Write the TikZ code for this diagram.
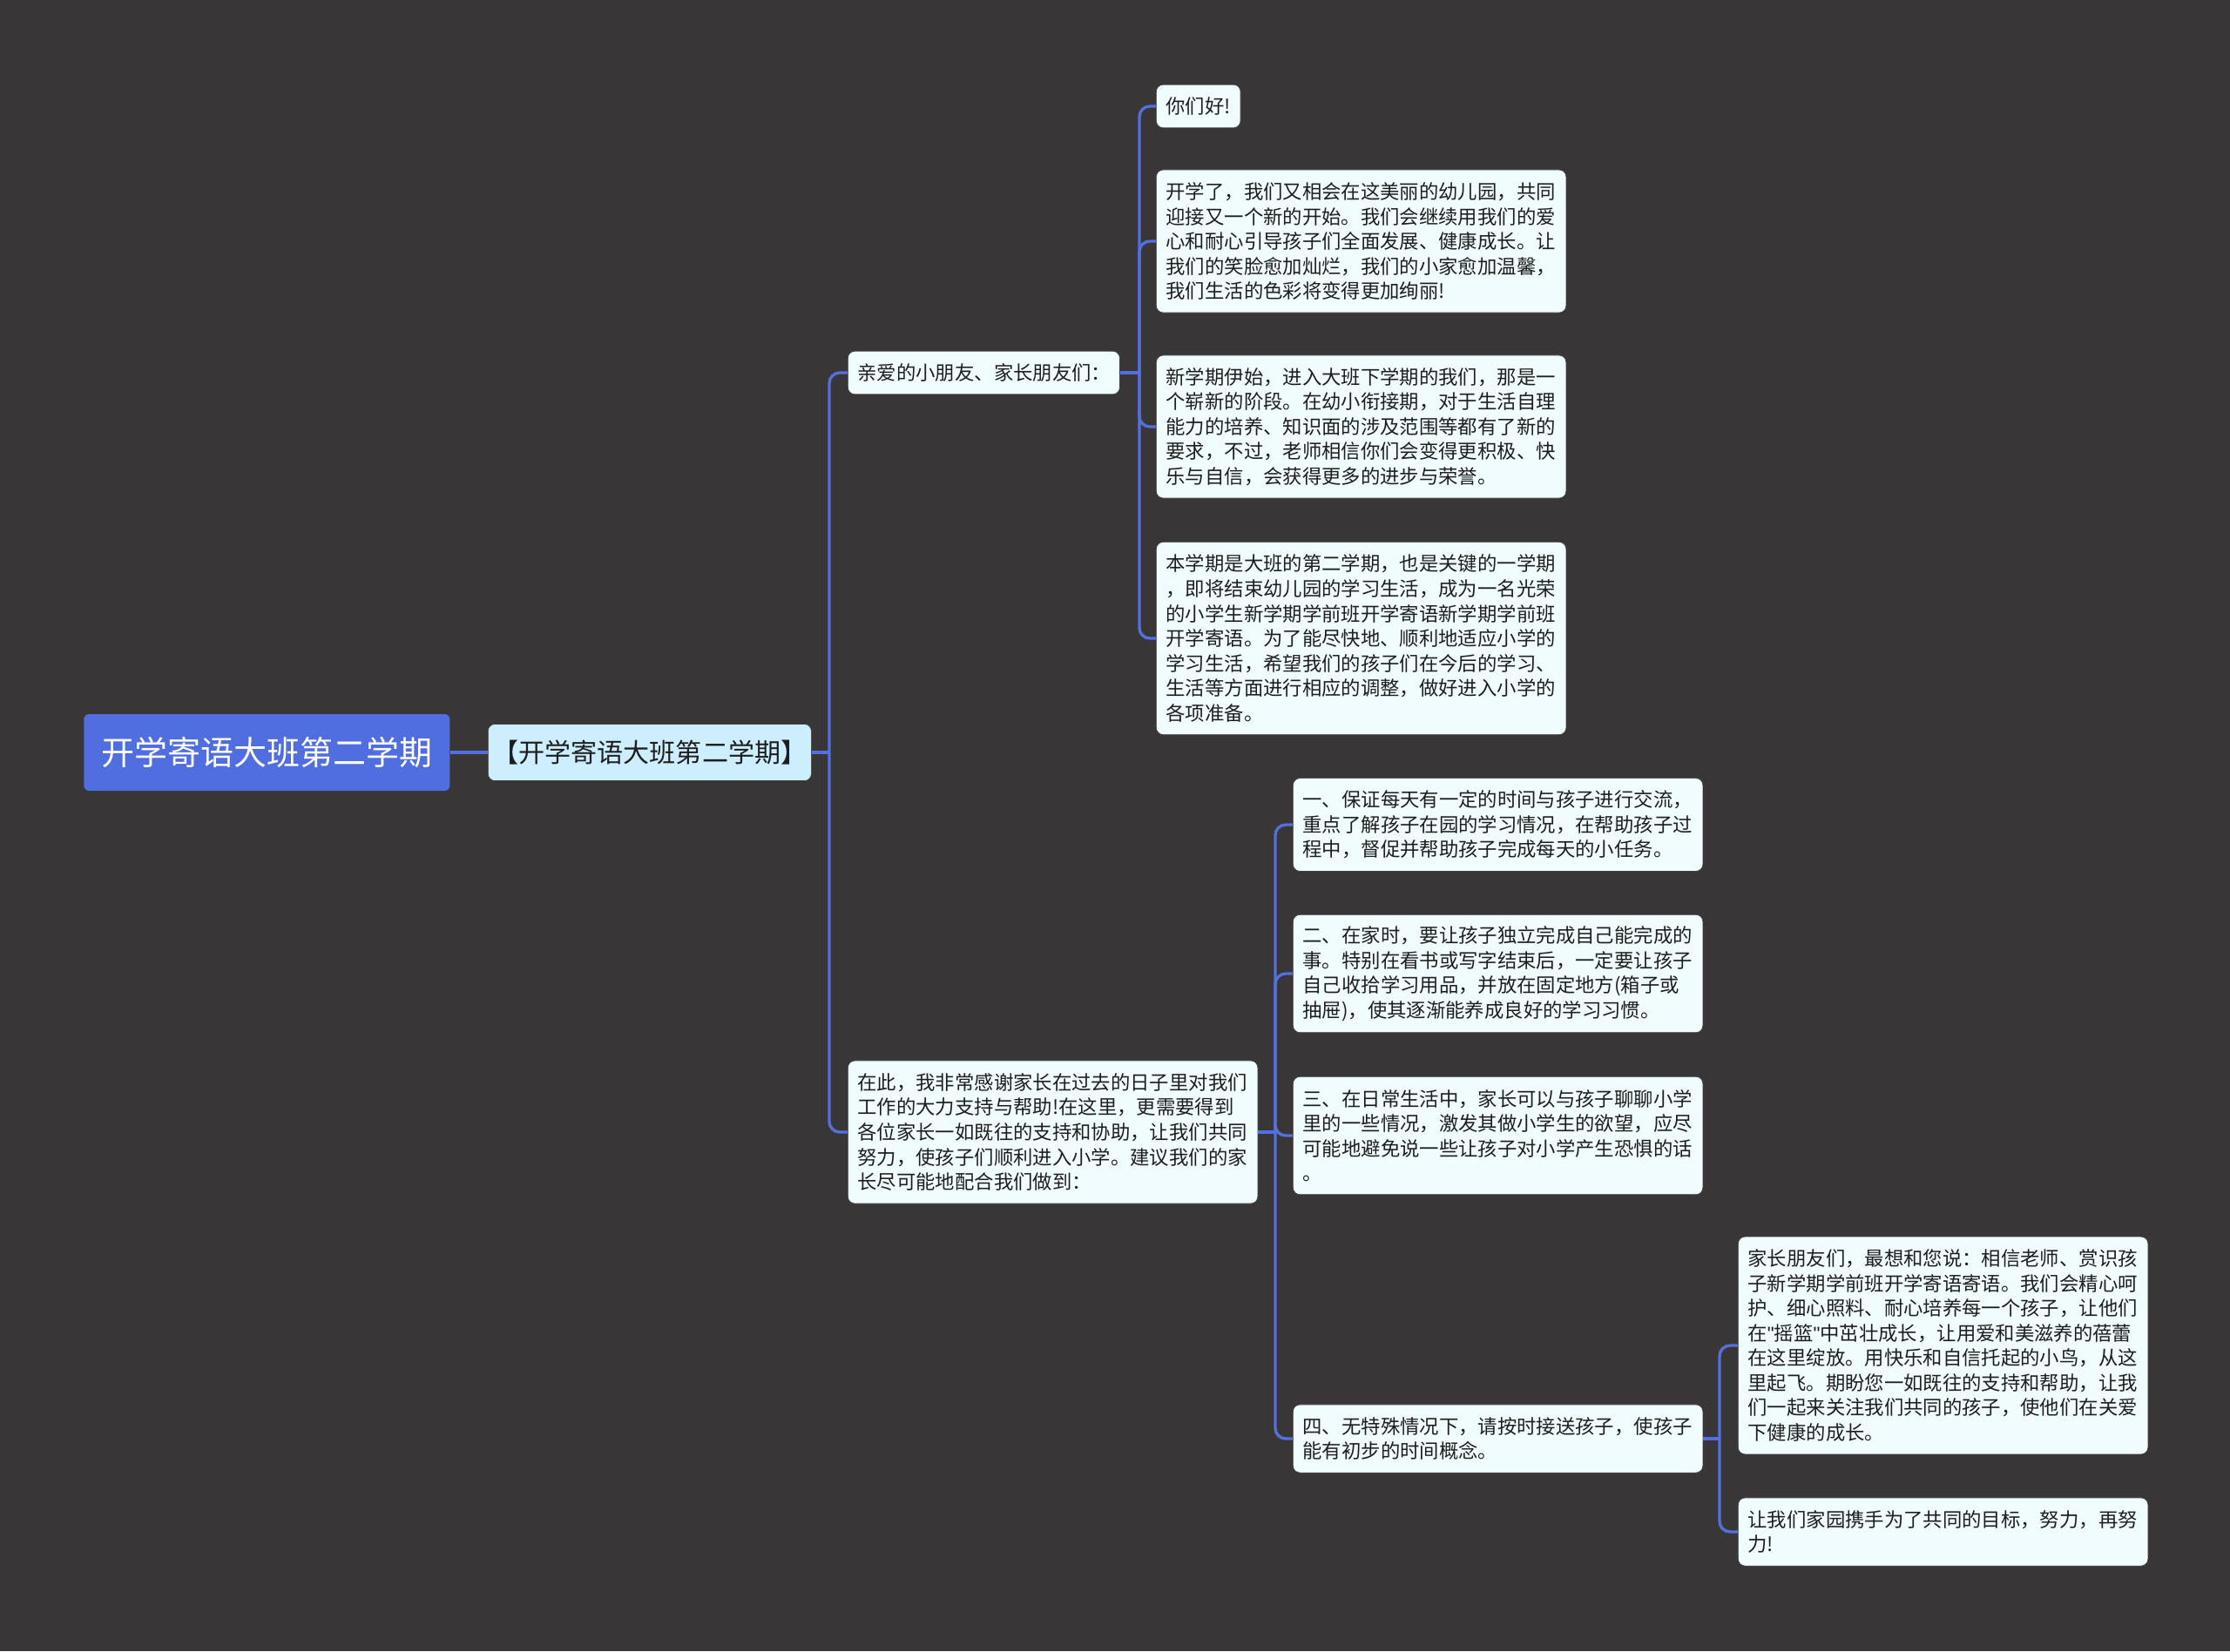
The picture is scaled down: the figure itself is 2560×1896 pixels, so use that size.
\documentclass[tikz,border=0pt]{standalone}
\usepackage{fontspec}
\setmainfont{Noto Sans CJK SC}
\newfontfamily\asciifont{Liberation Sans}
\usepackage{tikz}
\usetikzlibrary{positioning}

\definecolor{bgdark}{RGB}{56,54,55}
\definecolor{linkblue}{RGB}{84,112,222}
\definecolor{rootblue}{RGB}{80,110,224}
\definecolor{termfill}{RGB}{204,238,255}
\definecolor{leaffill}{RGB}{241,252,254}
\definecolor{leaftext}{RGB}{30,30,30}

\tikzset{
  link/.style={draw=linkblue, line width=2.4pt, rounded corners=0.3cm},
  leaf/.style={anchor=west, draw=black!75, line width=0.5pt, fill=leaffill, text=leaftext,
    rounded corners=0.2cm, inner xsep=0.28cm, inner ysep=0.15cm, align=left,
    font=\fontsize{15.9pt}{20.3pt}\selectfont, minimum height=0.525cm+0.715cm*#1},
  wide/.style={leaf=#1, text width=11.2cm},
}

\begin{document}
\begin{tikzpicture}[x=0.025cm, y=-0.025cm]
    \fill[bgdark] (0,0) rectangle (2560,1896);
    \useasboundingbox (0,0) rectangle (2560,1896);
    % root and title
    \node[anchor=west, fill=rootblue, text=white, rounded corners=0.15cm, minimum width=10.5cm,
      minimum height=2.2cm, font=\fontsize{27pt}{32pt}\selectfont] (root) at (96,864) {开学寄语大班第二学期};
    \node[anchor=west, fill=termfill, draw=black!75, text=leaftext, rounded corners=0.2cm,
      minimum width=9.275cm, minimum height=1.625cm, font=\fontsize{21.4pt}{25pt}\selectfont] (term) at (560,864) {【开学寄语大班第二学期】};
    % greeting
    \node[leaf=1, text width=7.24cm] (greet) at (973,428) {亲爱的小朋友、家长朋友们：};
    \node[leaf=1] (hello) at (1327,122) {你们好!};
    \node[wide=5] (start) at (1327,277) {开学了，我们又相会在这美丽的幼儿园，共同\\迎接又一个新的开始。我们会继续用我们的爱\\心和耐心引导孩子们全面发展、健康成长。让\\我们的笑脸愈加灿烂，我们的小家愈加温馨，\\我们生活的色彩将变得更加绚丽!};
    \node[wide=5] (stage) at (1327,490) {新学期伊始，进入大班下学期的我们，那是一\\个崭新的阶段。在幼小衔接期，对于生活自理\\能力的培养、知识面的涉及范围等都有了新的\\要求，不过，老师相信你们会变得更积极、快\\乐与自信，会获得更多的进步与荣誉。};
    \node[wide=7] (term2) at (1327,733) {本学期是大班的第二学期，也是关键的一学期\\，即将结束幼儿园的学习生活，成为一名光荣\\的小学生新学期学前班开学寄语新学期学前班\\开学寄语。为了能尽快地、顺利地适应小学的\\学习生活，希望我们的孩子们在今后的学习、\\生活等方面进行相应的调整，做好进入小学的\\各项准备。};
    % parents
    \node[wide=5] (thanks) at (973,1300) {在此，我非常感谢家长在过去的日子里对我们\\工作的大力支持与帮助!在这里，更需要得到\\各位家长一如既往的支持和协助，让我们共同\\努力，使孩子们顺利进入小学。建议我们的家\\长尽可能地配合我们做到：};
    \node[wide=3] (tipa) at (1484,947) {一、保证每天有一定的时间与孩子进行交流，\\重点了解孩子在园的学习情况，在帮助孩子过\\程中，督促并帮助孩子完成每天的小任务。};
    \node[wide=4] (tipb) at (1484,1118) {二、在家时，要让孩子独立完成自己能完成的\\事。特别在看书或写字结束后，一定要让孩子\\自己收拾学习用品，并放在固定地方(箱子或\\抽屉)，使其逐渐能养成良好的学习习惯。};
    \node[wide=4] (tipc) at (1484,1304) {三、在日常生活中，家长可以与孩子聊聊小学\\里的一些情况，激发其做小学生的欲望，应尽\\可能地避免说一些让孩子对小学产生恐惧的话\\。};
    \node[wide=2] (tipd) at (1484,1652) {四、无特殊情况下，请按时接送孩子，使孩子\\能有初步的时间概念。};
    \node[wide=8] (wish) at (1995,1545) {家长朋友们，最想和您说：相信老师、赏识孩\\子新学期学前班开学寄语寄语。我们会精心呵\\护、细心照料、耐心培养每一个孩子，让他们\\在{\asciifont"}摇篮{\asciifont"}中茁壮成长，让用爱和美滋养的蓓蕾\\在这里绽放。用快乐和自信托起的小鸟，从这\\里起飞。期盼您一如既往的支持和帮助，让我\\们一起来关注我们共同的孩子，使他们在关爱\\下健康的成长。};
    \node[wide=2] (goal) at (1995,1759) {让我们家园携手为了共同的目标，努力，再努\\力!};
    % links
    \coordinate (j0) at (952,864);
    \coordinate (jg) at (1308,428);
    \coordinate (jt) at (1464,1300);
    \coordinate (jd) at (1974,1652);
    \draw[link] (root.east) -- (term.west);
    \draw[link] (term.east) -- (j0);
    \draw[link] (j0) |- (greet.west);
    \draw[link] (j0) |- (thanks.west);
    \draw[link] (greet.east) -- (jg);
    \foreach \n in {hello,start,stage,term2}
        \draw[link] (jg) |- (\n.west);
    \draw[link] (thanks.east) -- (jt);
    \foreach \n in {tipa,tipb,tipc,tipd}
        \draw[link] (jt) |- (\n.west);
    \draw[link] (tipd.east) -- (jd);
    \draw[link] (jd) |- (wish.west);
    \draw[link] (jd) |- (goal.west);
\end{tikzpicture}
\end{document}
